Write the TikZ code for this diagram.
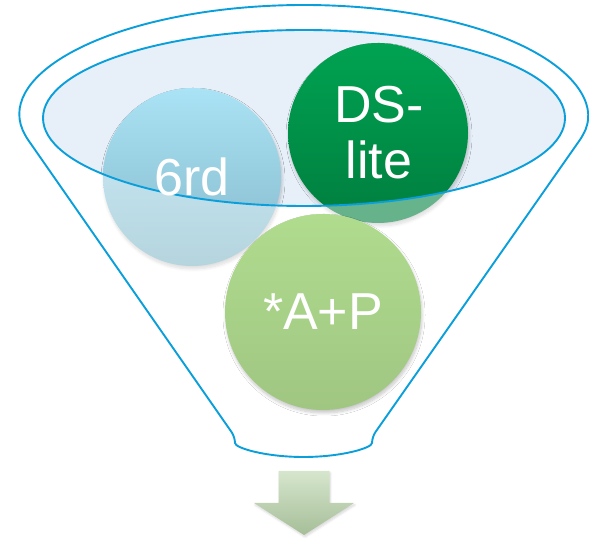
\documentclass[tikz,border=0pt]{standalone}
\usepackage{fontspec}
\setmainfont{Liberation Sans}
\usetikzlibrary{shadows.blur}
\definecolor{funnelline}{HTML}{0A9FDA}
\definecolor{innerfill}{HTML}{E7EFF8}
\definecolor{sixtop}{HTML}{AAE3F5}
\definecolor{sixbot}{HTML}{84B8C9}
\definecolor{dstop}{HTML}{00A352}
\definecolor{dsbot}{HTML}{007E3E}
\definecolor{aptop}{HTML}{B0DC8E}
\definecolor{apbot}{HTML}{A0C682}
\definecolor{arrtop}{HTML}{D6E6CD}
\definecolor{arrbot}{HTML}{A6BE98}
\tikzset{
  bubble/.style={circle, inner sep=0pt, minimum size=#1,
    blur shadow={shadow xshift=1bp, shadow yshift=-3bp, shadow blur radius=3bp, shadow blur steps=8, shadow opacity=22}},
  bubbletext/.style={text=white, font=\fontsize{52bp}{56bp}\selectfont, align=center, inner sep=0pt},
  funnelstroke/.style={draw=funnelline, line width=1.9bp}
}
\begin{document}
\begin{tikzpicture}[x=1bp, y=1bp]
\useasboundingbox (0,0) rectangle (589,542);
% inner ellipse background
\fill[innerfill] (304,424) ellipse[x radius=261, y radius=88];
% back circles
\node[bubble=178bp, top color=sixtop, bottom color=sixbot] (c6rd) at (192,365) {};
\node[bubble=180bp, top color=dstop, bottom color=dsbot] (cds) at (378,409) {};
% funnel body veil
\fill[white, fill opacity=0.4, even odd rule, rounded corners=5bp]
  (24.7,407) arc[start angle=189.25, end angle=-9.25, x radius=283, y radius=112]
  -- (372,105) arc[start angle=0, end angle=-180, x radius=68.5, y radius=20]
  -- cycle
  (304,424) ellipse[x radius=261, y radius=88];
% front circle
\node[bubble=196bp, top color=aptop, bottom color=apbot] (cap) at (323,230) {};
% funnel outlines
\draw[funnelstroke, rounded corners=6bp]
  (24.7,407) arc[start angle=189.25, end angle=-9.25, x radius=283, y radius=112]
  -- (372,105) arc[start angle=0, end angle=-180, x radius=68.5, y radius=20]
  -- cycle;
\draw[funnelstroke] (304,424) ellipse[x radius=261, y radius=88];
% labels
\node[bubbletext] (t6rd) at (c6rd) {6rd};
\node[bubbletext] (tds) at (379,409) {DS-\\lite};
\node[bubbletext] (tap) at (cap) {*A+P};
% output arrow
\shade[top color=arrtop, bottom color=arrbot,
  blur shadow={shadow xshift=1bp, shadow yshift=-2bp, shadow blur radius=2bp, shadow blur steps=5, shadow opacity=15}]
  (278.5,71) -- (329.5,71) -- (329.5,39) -- (354,39) -- (304,7)
  -- (254,39) -- (278.5,39) -- cycle;
\end{tikzpicture}
\end{document}
